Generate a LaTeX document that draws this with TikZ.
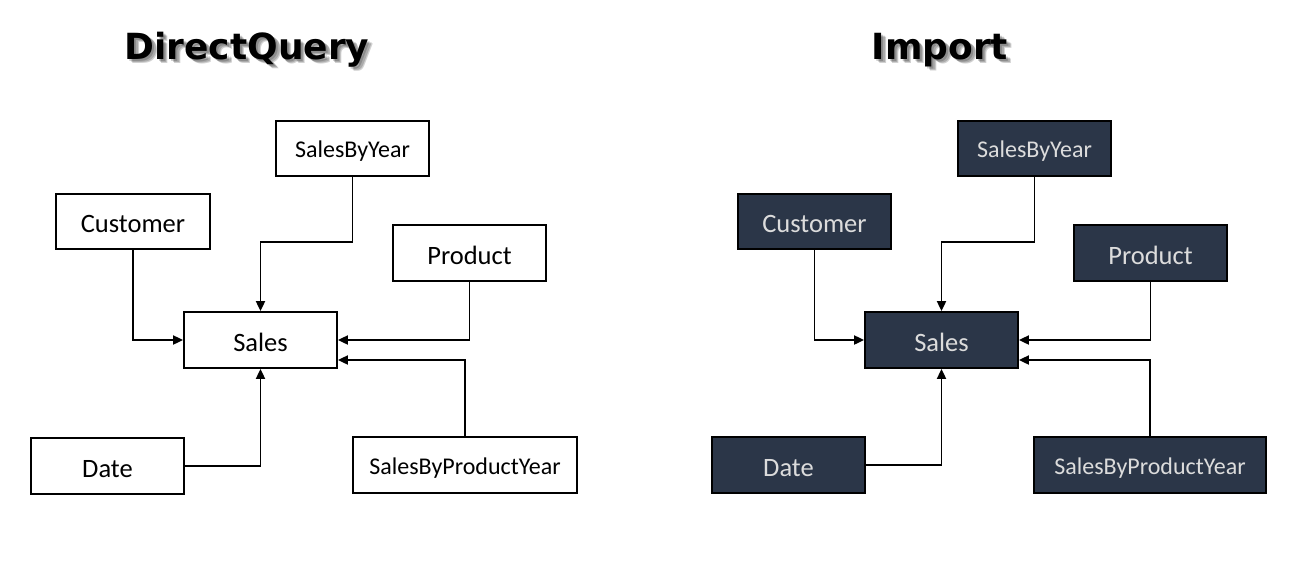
\documentclass[tikz,border=0pt]{standalone}
\usepackage{fontspec}
\setmainfont{Carlito}
\newfontfamily\titlefont{DejaVu Sans}
\usetikzlibrary{arrows.meta}
\definecolor{darkbox}{HTML}{2B3648}
\definecolor{lighttext}{HTML}{DCDCDC}
\tikzset{
  boxtext/.style={font=\fontsize{26.5}{30}\selectfont, text height=24pt, text depth=2pt},
  lbox/.style={draw=black, line width=1.8pt, fill=white, inner sep=0pt, boxtext},
  dbox/.style={draw=black, line width=1.8pt, fill=darkbox, text=lighttext, inner sep=0pt, boxtext},
  smalltext/.style={font=\fontsize{24}{28}\selectfont, text height=20pt, text depth=1.6pt},
  conn/.style={line width=1.9pt, -{Triangle[length=10pt,width=9pt]}},
  title/.style={font=\titlefont\bfseries\fontsize{36}{40}\selectfont, anchor=base, inner sep=0pt},
  tshadow/.style={title, text=black, opacity=0.18},
}
\begin{document}
\begin{tikzpicture}[x=1pt,y=-1pt]
\useasboundingbox[fill=white] (0,0) rectangle (1307,566);

% titles (soft shadow + text)
\node[tshadow] (dqs1) at (249,61) {DirectQuery};
\node[tshadow] (dqs2) at (250.5,62.5) {DirectQuery};
\node[tshadow] (dqs3) at (251.5,63.5) {DirectQuery};
\node[title] (dq) at (247,59) {DirectQuery};
\node[tshadow] (ims1) at (942,61) {Import};
\node[tshadow] (ims2) at (943.5,62.5) {Import};
\node[tshadow] (ims3) at (944.5,63.5) {Import};
\node[title] (im) at (940,59) {Import};

% left diagram
\node[lbox, smalltext, minimum width=153pt, minimum height=55pt] (sby) at (352.5,148.5) {SalesByYear};
\node[lbox, minimum width=154pt, minimum height=55pt] (cust) at (133,221.5) {Customer};
\node[lbox, minimum width=153pt, minimum height=56pt] (prod) at (469.5,253) {Product};
\node[lbox, minimum width=153pt, minimum height=56pt] (sales) at (260.5,340) {Sales};
\node[lbox, minimum width=153pt, minimum height=56pt] (date) at (107.5,466) {Date};
\node[lbox, smalltext, minimum width=224pt, minimum height=56pt] (sbpy) at (465,465) {SalesByProductYear};

\draw[conn] (sby.south) -- (sby.south |- 0,242) -- (sales.north |- 0,242) -- (sales.north);
\draw[conn] (cust.south) |- (sales.west);
\draw[conn] (prod.south) |- (sales.east);
\draw[conn] (sbpy.north) |- ([yshift=-20pt]sales.east);
\draw[conn] (date.east) -| (sales.south);

% right diagram
\node[dbox, smalltext, minimum width=153pt, minimum height=55pt] (sby2) at (1034.5,148.5) {SalesByYear};
\node[dbox, minimum width=153pt, minimum height=55pt] (cust2) at (814.5,221.5) {Customer};
\node[dbox, minimum width=153pt, minimum height=56pt] (prod2) at (1150.5,253) {Product};
\node[dbox, minimum width=153pt, minimum height=56pt] (sales2) at (941.5,340) {Sales};
\node[dbox, minimum width=153pt, minimum height=56pt] (date2) at (788.5,465) {Date};
\node[dbox, smalltext, minimum width=232pt, minimum height=56pt] (sbpy2) at (1150,465) {SalesByProductYear};

\draw[conn] (sby2.south) -- (sby2.south |- 0,242) -- (sales2.north |- 0,242) -- (sales2.north);
\draw[conn] (cust2.south) |- (sales2.west);
\draw[conn] (prod2.south) |- (sales2.east);
\draw[conn] (sbpy2.north) |- ([yshift=-20pt]sales2.east);
\draw[conn] (date2.east) -| (sales2.south);
\end{tikzpicture}
\end{document}
